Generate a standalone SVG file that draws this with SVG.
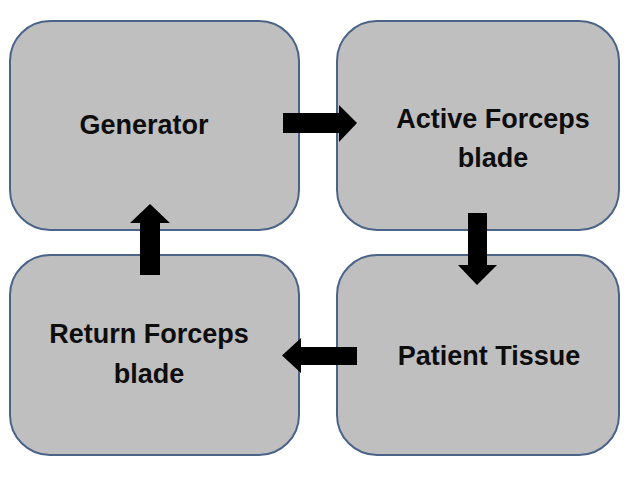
<svg xmlns="http://www.w3.org/2000/svg" width="640" height="480" viewBox="0 0 640 480">
<style>
.box{fill:#bfbfbf;stroke:#4a6488;stroke-width:2}
.lbl{font-family:"Liberation Sans",Arial,sans-serif;font-weight:bold;font-size:27px;fill:#0d0d0d;text-anchor:middle}
.arr{fill:#000}
</style>
<rect width="640" height="480" fill="#fff"/>
<g id="generator">
<rect class="box" x="10" y="21" width="289" height="209" rx="40" ry="40"/>
<text class="lbl" x="144" y="134" font-size="28">Generator</text>
</g>
<g id="active">
<rect class="box" x="337" y="21" width="282" height="209" rx="40" ry="40"/>
<text class="lbl" x="493" y="128">Active Forceps</text>
<text class="lbl" x="493" y="167">blade</text>
</g>
<g id="patient">
<rect class="box" x="337" y="255" width="282" height="200" rx="40" ry="40"/>
<text class="lbl" x="489" y="365">Patient Tissue</text>
</g>
<g id="return">
<rect class="box" x="10" y="255" width="289" height="200" rx="40" ry="40"/>
<text class="lbl" x="149" y="343">Return Forceps</text>
<text class="lbl" x="149" y="383">blade</text>
</g>
<g id="connectors">
<polygon class="arr" points="283,113 339,113 339,105 357,123 339,142 339,133 283,133"/>
<polygon class="arr" points="468,213 487,213 487,265 497,265 477,285 458,265 468,265"/>
<polygon class="arr" points="357,347 301,347 301,338 282,355.5 301,373 301,365 357,365"/>
<polygon class="arr" points="140,275 140,223 130,223 150,204 170,223 160,223 160,275"/>
</g>
</svg>
